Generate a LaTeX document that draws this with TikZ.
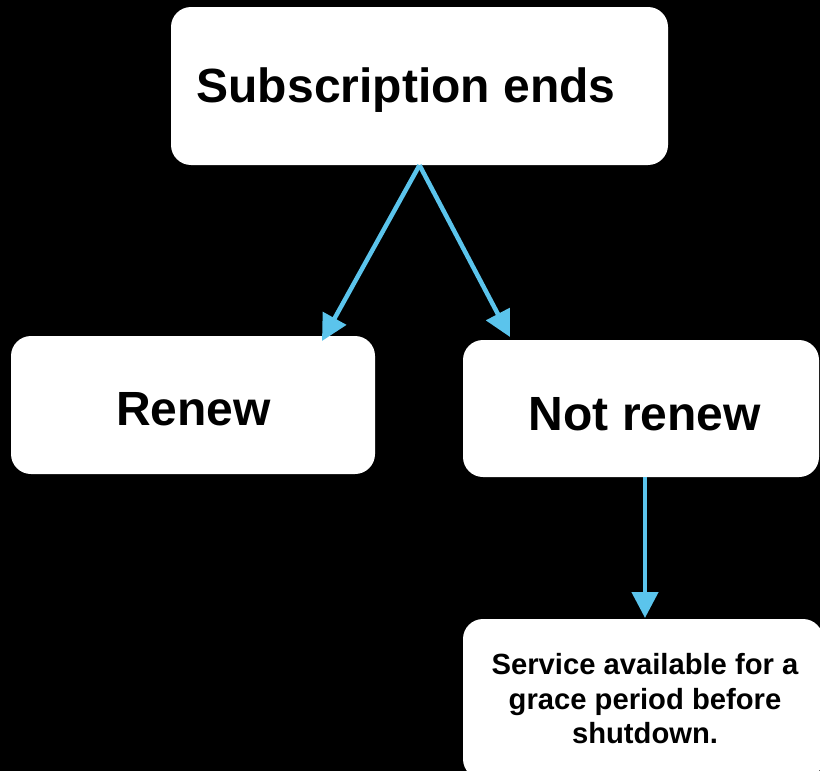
\documentclass[tikz,border=0pt]{standalone}
\usepackage{fontspec}
\setmainfont{Liberation Sans}
\usetikzlibrary{arrows.meta}
\definecolor{arrowblue}{HTML}{5BC4EC}
\begin{document}
\begin{tikzpicture}[x=1pt,y=1pt,
  box/.style={fill=white,draw=none,rounded corners=20pt,inner sep=0pt},
  bigtxt/.style={font=\fontsize{48}{56}\selectfont\bfseries,text=black,inner sep=0pt},
  smalltxt/.style={font=\fontsize{29.2}{34.5}\selectfont\bfseries,text=black,inner sep=0pt,align=center},
  conn/.style={draw=arrowblue,line width=4.5pt,-{Triangle[length=26pt,width=26pt]}}]
\fill[black] (0,0) rectangle (820,-771);
\useasboundingbox (0,0) rectangle (820,-771);
\node[box,minimum width=497pt,minimum height=158pt] (top) at (419.5,-86) {};
\node[box,minimum width=364pt,minimum height=138pt] (renew) at (193,-405) {};
\node[box,minimum width=356pt,minimum height=137pt] (notrenew) at (641,-408.5) {};
\node[box,minimum width=360pt,minimum height=160pt] (service) at (643,-699) {};
\node[bigtxt] (toptxt) at (406,-90) {Subscription ends};
\node[bigtxt] (renewtxt) at (193.5,-409) {Renew};
\node[bigtxt] (notrenewtxt) at (645,-414) {Not renew};
\node[smalltxt] (servicetxt) at (645,-699) {Service available for a\\grace period before\\shutdown.};
\coordinate (lt) at (322,-341);
\coordinate (rt) at (510,-337);
\coordinate (dt) at (645,-618);
\draw[conn] (top.south) -- (lt);
\draw[conn] (top.south) -- (rt);
\draw[conn] (notrenew.south -| dt) -- (dt);
\end{tikzpicture}
\end{document}
